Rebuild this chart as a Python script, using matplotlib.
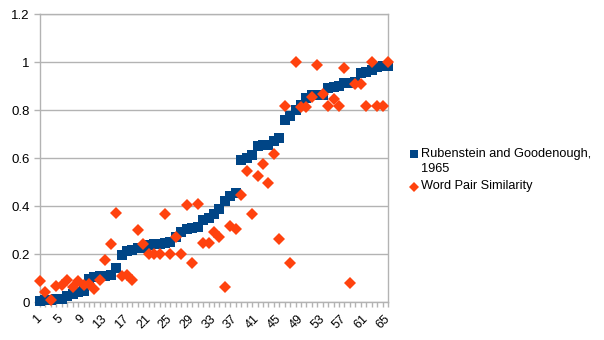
import matplotlib
matplotlib.use("Agg")
import matplotlib.pyplot as plt
from matplotlib.lines import Line2D

categories = list(range(1, 66))

rubenstein = [0.005, 0.01, 0.01, 0.0125, 0.015, 0.0275, 0.035, 0.045, 0.0475, 0.0975,
              0.105, 0.11, 0.11, 0.1125, 0.1425, 0.1975, 0.2125, 0.22, 0.225, 0.2275,
              0.24, 0.2425, 0.2425, 0.2475, 0.25, 0.2725, 0.295, 0.305, 0.31, 0.315,
              0.3425, 0.3525, 0.37, 0.3875, 0.4225, 0.445, 0.455, 0.5925, 0.6025, 0.615,
              0.6525, 0.6575, 0.6575, 0.6725, 0.685, 0.76, 0.7775, 0.8025, 0.8225, 0.8525,
              0.8625, 0.865, 0.865, 0.895, 0.8975, 0.9, 0.9125, 0.915, 0.92, 0.955,
              0.96, 0.97, 0.98, 0.985, 0.985]

word_pair = [0.089, 0.042, 0.008, 0.07, 0.071, 0.092, 0.065, 0.089, 0.071, 0.075,
             0.057, 0.092, 0.176, 0.245, 0.374, 0.11, 0.112, 0.092, 0.30, 0.245,
             0.2, 0.2, 0.2, 0.367, 0.2, 0.272, 0.2, 0.407, 0.165, 0.411,
             0.246, 0.246, 0.293, 0.274, 0.064, 0.318, 0.304, 0.447, 0.546, 0.367,
             0.526, 0.575, 0.497, 0.62, 0.265, 0.818, 0.165, 1.0, 0.815, 0.815,
             0.857, 0.99, 0.87, 0.818, 0.849, 0.818, 0.978, 0.079, 0.911, 0.911,
             0.818, 1.0, 0.818, 0.818, 1.0]

xtick_labels = [str(c) for c in range(1, 66, 4)]
ytick_values = [0, 0.2, 0.4, 0.6, 0.8, 1, 1.2]
ytick_labels = ["0", "0.2", "0.4", "0.6", "0.8", "1", "1.2"]

series_names = ["Rubenstein and Goodenough,\n1965", "Word Pair Similarity"]
BLUE = "#004586"
ORANGE = "#ff420e"
GRAY = "#b3b3b3"

plt.rcParams['font.family'] = ['Liberation Sans', 'DejaVu Sans']

W, H = 604, 340
fig = plt.figure(figsize=(W / 100, H / 100), dpi=100)
L, R, T, B = 40, 388, 14.3, 302.3
ax = fig.add_axes([L / W, 1 - B / H, (R - L) / W, (B - T) / H])

ax.plot(categories, rubenstein, linestyle='none', marker='s', markersize=7.2,
        color=BLUE, markeredgewidth=0, clip_on=False, zorder=3)
ax.plot(categories, word_pair, linestyle='none', marker='D', markersize=5.7,
        color=ORANGE, markeredgewidth=0, clip_on=False, zorder=4)

ax.set_xlim(1, 65)
ax.set_ylim(0, 1.2)
ax.set_yticks(ytick_values)
ax.set_yticklabels(ytick_labels, fontsize=9.5)
ax.set_xticks(list(range(1, 66, 4)))
ax.set_xticklabels(xtick_labels, fontsize=9, rotation=45, ha='right', va='center',
                   rotation_mode='anchor')
ax.set_xticks(categories, minor=True)

ax.grid(axis='y', color=GRAY, linewidth=1)
ax.set_axisbelow(True)
for s in ax.spines.values():
    s.set_color(GRAY)
    s.set_linewidth(1)
ax.tick_params(axis='y', length=4.3, width=1, color=GRAY, pad=3)
ax.tick_params(axis='x', which='both', length=3.6, width=1, color=GRAY, pad=7)

# legend (drawn manually to match layout)
def fx(px):
    return px / W

def fy(py):
    return 1 - py / H

fig.add_artist(Line2D([fx(414)], [fy(154)], marker='s', markersize=5.8, color=BLUE,
                      markeredgewidth=0, linestyle='none', transform=fig.transFigure))
fig.text(fx(421), fy(154), series_names[0].split("\n")[0], fontsize=9.2, va='center', ha='left')
fig.text(fx(421), fy(169), series_names[0].split("\n")[1], fontsize=9.2, va='center', ha='left')
fig.add_artist(Line2D([fx(414)], [fy(186.5)], marker='D', markersize=4.6, color=ORANGE,
                      markeredgewidth=0, linestyle='none', transform=fig.transFigure))
fig.text(fx(421), fy(186), series_names[1], fontsize=9.2, va='center', ha='left')

fig.savefig("out.png", dpi=100)
